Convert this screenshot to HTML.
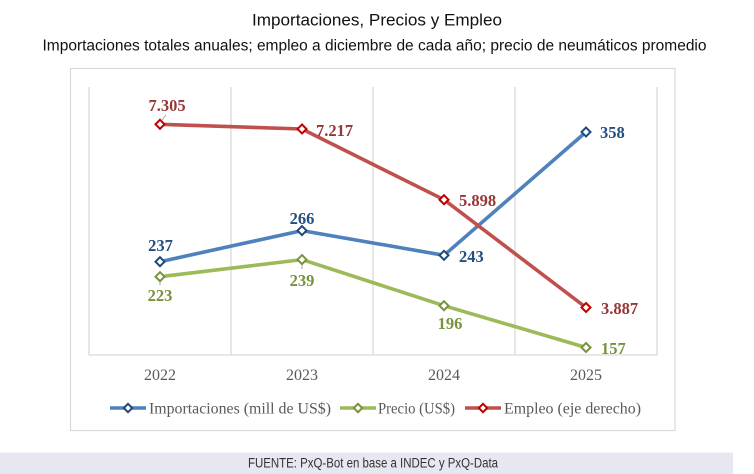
<!DOCTYPE html>
<html>
<head>
<meta charset="utf-8">
<style>
html,body{margin:0;padding:0;background:#fff;}
svg{display:block;}
</style>
</head>
<body>
<svg width="754" height="474" viewBox="0 0 754 474" xmlns="http://www.w3.org/2000/svg">
  <rect x="0" y="0" width="754" height="474" fill="#ffffff"/>
  <!-- Titles -->
  <text x="377" y="25.5" text-anchor="middle" font-family="Liberation Sans, sans-serif" font-size="16.5" fill="#111" textLength="250" lengthAdjust="spacingAndGlyphs">Importaciones, Precios y Empleo</text>
  <text x="374.5" y="50.5" text-anchor="middle" font-family="Liberation Sans, sans-serif" font-size="15.5" fill="#111" textLength="664" lengthAdjust="spacingAndGlyphs">Importaciones totales anuales; empleo a diciembre de cada año; precio de neumáticos promedio</text>

  <!-- chart outer border -->
  <rect x="70.5" y="68.5" width="604.5" height="362" fill="#fff" stroke="#d9d9d9" stroke-width="1.2"/>

  <!-- gridlines -->
  <g stroke="#d9d9d9" stroke-width="1.3">
    <line x1="89" y1="87" x2="89" y2="355"/>
    <line x1="231" y1="87" x2="231" y2="355"/>
    <line x1="373" y1="87" x2="373" y2="355"/>
    <line x1="515" y1="87" x2="515" y2="355"/>
    <line x1="657" y1="87" x2="657" y2="355"/>
    <line x1="89" y1="355" x2="657" y2="355"/>
  </g>

  <!-- year labels -->
  <g font-family="Liberation Serif, serif" font-size="16" fill="#595959" text-anchor="middle">
    <text x="160" y="380">2022</text>
    <text x="302" y="380">2023</text>
    <text x="444" y="380">2024</text>
    <text x="586" y="380">2025</text>
  </g>

  <!-- leader lines -->
  <g stroke="#a6a6a6" stroke-width="1">
    <line x1="166" y1="115" x2="162" y2="120"/>
    <line x1="160" y1="281" x2="160" y2="285"/>
    <line x1="302" y1="264" x2="302" y2="269"/>
  </g>

  <!-- Series: Importaciones -->
  <polyline points="160,261.7 302,230.6 444,255.3 586,132" fill="none" stroke="#4f81bd" stroke-width="3.6" stroke-linejoin="round"/>
  <!-- Series: Precio -->
  <polyline points="160,276.7 302,259.6 444,305.7 586,347.5" fill="none" stroke="#9bbb59" stroke-width="3.6" stroke-linejoin="round"/>
  <!-- Series: Empleo -->
  <polyline points="160,124.3 302,129 444,199.7 586,307.5" fill="none" stroke="#c0504d" stroke-width="3.6" stroke-linejoin="round"/>

  <!-- markers -->
  <g fill="#fff" stroke-width="2">
    <g stroke="#1f497d">
      <path d="M160,257.2 L164.5,261.7 L160,266.2 L155.5,261.7 Z"/>
      <path d="M302,226.1 L306.5,230.6 L302,235.1 L297.5,230.6 Z"/>
      <path d="M444,250.8 L448.5,255.3 L444,259.8 L439.5,255.3 Z"/>
      <path d="M586,127.5 L590.5,132 L586,136.5 L581.5,132 Z"/>
    </g>
    <g stroke="#77933c">
      <path d="M160,272.2 L164.5,276.7 L160,281.2 L155.5,276.7 Z"/>
      <path d="M302,255.1 L306.5,259.6 L302,264.1 L297.5,259.6 Z"/>
      <path d="M444,301.2 L448.5,305.7 L444,310.2 L439.5,305.7 Z"/>
      <path d="M586,343 L590.5,347.5 L586,352 L581.5,347.5 Z"/>
    </g>
    <g stroke="#c00000">
      <path d="M160,119.8 L164.5,124.3 L160,128.8 L155.5,124.3 Z"/>
      <path d="M302,124.5 L306.5,129 L302,133.5 L297.5,129 Z"/>
      <path d="M444,195.2 L448.5,199.7 L444,204.2 L439.5,199.7 Z"/>
      <path d="M586,303 L590.5,307.5 L586,312 L581.5,307.5 Z"/>
    </g>
  </g>

  <!-- data labels -->
  <g font-family="Liberation Serif, serif" font-size="16.5" font-weight="bold">
    <g fill="#254e80">
      <text x="160.5" y="251" text-anchor="middle">237</text>
      <text x="302" y="224" text-anchor="middle">266</text>
      <text x="459" y="262">243</text>
      <text x="600" y="138">358</text>
    </g>
    <g fill="#76923c">
      <text x="160" y="301" text-anchor="middle">223</text>
      <text x="302" y="286" text-anchor="middle">239</text>
      <text x="450" y="329" text-anchor="middle">196</text>
      <text x="601" y="354">157</text>
    </g>
    <g fill="#953735">
      <text x="167" y="111" text-anchor="middle">7.305</text>
      <text x="316" y="136">7.217</text>
      <text x="459" y="206">5.898</text>
      <text x="601" y="314">3.887</text>
    </g>
  </g>

  <!-- legend -->
  <g stroke-width="3.6">
    <line x1="110" y1="408" x2="146" y2="408" stroke="#4f81bd"/>
    <line x1="340" y1="408" x2="376" y2="408" stroke="#9bbb59"/>
    <line x1="465" y1="408" x2="501" y2="408" stroke="#c0504d"/>
  </g>
  <g fill="#fff" stroke-width="2">
    <path d="M128,403.8 L132.2,408 L128,412.2 L123.8,408 Z" stroke="#1f497d"/>
    <path d="M358,403.8 L362.2,408 L358,412.2 L353.8,408 Z" stroke="#77933c"/>
    <path d="M483,403.8 L487.2,408 L483,412.2 L478.8,408 Z" stroke="#c00000"/>
  </g>
  <g font-family="Liberation Serif, serif" font-size="16" fill="#595959">
    <text x="149" y="413.5" textLength="182" lengthAdjust="spacingAndGlyphs">Importaciones (mill de US$)</text>
    <text x="378" y="413.5" textLength="77" lengthAdjust="spacingAndGlyphs">Precio (US$)</text>
    <text x="504" y="413.5" textLength="137" lengthAdjust="spacingAndGlyphs">Empleo (eje derecho)</text>
  </g>

  <!-- footer -->
  <rect x="0" y="452.5" width="733" height="21.5" fill="#e7e7f1"/>
  <text x="373" y="467.5" text-anchor="middle" font-family="Liberation Sans, sans-serif" font-size="13.5" fill="#333" textLength="250" lengthAdjust="spacingAndGlyphs">FUENTE: PxQ-Bot en base a INDEC y PxQ-Data</text>
</svg>
</body>
</html>
